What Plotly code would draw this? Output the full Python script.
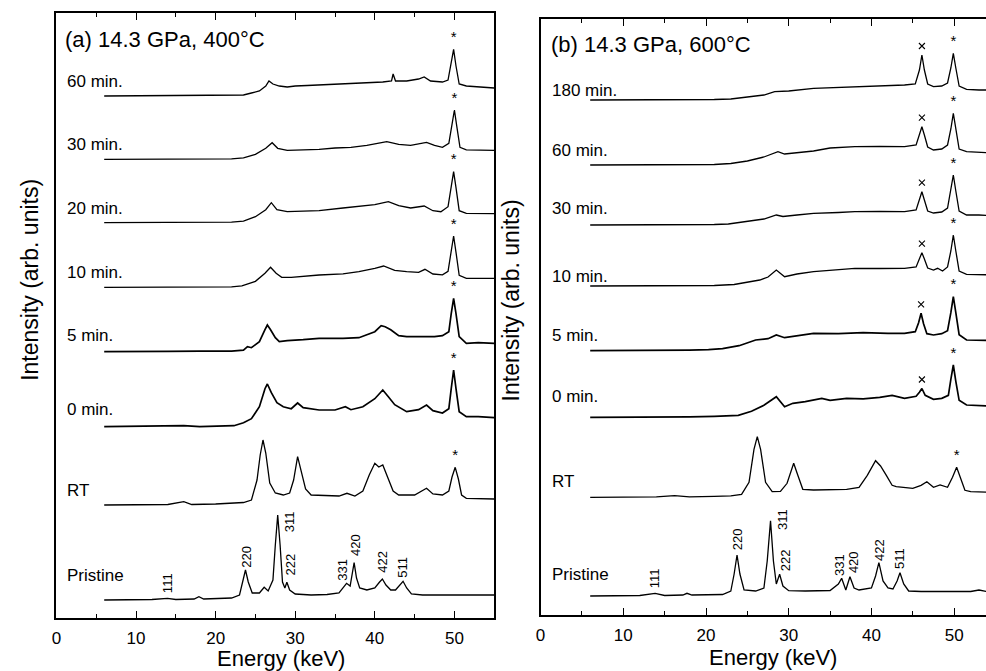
import plotly.graph_objects as go

FONT = "Liberation Sans, Arial, sans-serif"

# ---------------- Panel (a): 14.3 GPa, 400 C ----------------
A_LABELS = ["60 min.", "30 min.", "20 min.", "10 min.", "5 min.", "0 min.", "RT", "Pristine"]

A_60 = [(6, 0), (10, 0.3), (14, 0), (18, 0.3), (22, 0.5), (23.5, 1), (24.5, 3), (25.5, 5), (26.3, 10),
        (26.7, 15), (27.2, 12), (28, 10), (29, 9), (30, 10), (31.5, 10.5), (33, 11), (35, 12), (37, 12.5),
        (39, 13), (41, 14), (42.1, 15), (42.3, 22), (42.6, 15), (44, 15), (45.5, 17), (46.2, 19), (47, 15),
        (48.5, 14), (49.2, 16), (49.6, 32), (49.9, 46.7), (50.2, 30), (50.6, 12), (51.5, 10), (53, 9), (55, 8)]
A_30 = [(6, 0), (10, 0.3), (14, 0), (18, 0.5), (22, 0.5), (23.5, 1.5), (25, 5), (26.3, 11), (27.1, 16.6),
        (27.8, 11), (29, 9), (31, 9.5), (33, 10), (35, 11.3), (37, 12), (39, 14), (41.5, 17.6), (43, 15),
        (44.5, 14), (46.5, 17), (47.5, 14), (48.5, 12), (49.3, 16), (49.7, 35), (50.0, 49.3), (50.3, 33),
        (50.7, 12), (51.5, 9.5), (53, 9), (55, 9)]
A_20 = [(6, 0), (10, 0.3), (14, 0), (18, 0.3), (22, 0.5), (23.5, 1.5), (25, 6), (26.3, 13), (27.0, 20),
        (27.7, 13), (29, 11), (31, 11.5), (33, 12), (36, 14.7), (38, 16), (40, 18), (41.7, 21), (43, 17),
        (44.5, 14.7), (46.2, 16.7), (47.3, 12), (48.3, 11), (49.2, 16), (49.6, 35), (49.9, 51), (50.2, 35),
        (50.6, 12), (51.5, 9.4), (53, 9), (55, 9)]
A_10 = [(6, 0), (10, 0.3), (14, 0), (18, 0.3), (22, 0.5), (23.3, 1.5), (25, 6), (26.2, 14), (26.9, 20),
        (27.6, 14), (28.3, 10), (29.5, 10), (31, 11), (33, 12.3), (36, 13.5), (38, 15.6), (40, 19),
        (41.1, 21.3), (42.5, 17), (44, 15.6), (45.5, 15), (46.3, 18), (47.3, 13.3), (48.5, 12.5), (49.2, 16),
        (49.6, 36), (49.9, 51.3), (50.2, 35), (50.6, 12), (51.5, 9), (53, 9), (55, 9)]
A_5 = [(6, 0), (10, 0.5), (14, 0.3), (18, 0.5), (22, 0.5), (23.5, 1.5), (24, 5), (24.5, 4), (25.5, 10),
       (26.2, 22), (26.5, 26.7), (26.9, 22), (27.5, 14), (28, 10), (29, 11), (31, 12), (33, 13.4), (36, 13.4),
       (38, 14), (40, 20), (40.8, 26), (41.3, 25), (42, 22), (43, 16), (44, 15), (46, 15), (47.5, 15),
       (48.5, 16), (49.3, 20), (49.6, 38), (49.9, 53.4), (50.2, 38), (50.6, 15), (51.5, 8.4), (53, 9), (55, 8.4)]
A_0 = [(6, 0), (10, 0.5), (14, 0.5), (16, 1), (18, 0), (20, 0.5), (22.3, 1), (23.5, 4), (24.5, 8), (25.5, 20),
       (26.2, 38), (26.5, 42.7), (27, 34), (27.7, 24), (28.5, 20), (29.5, 18), (30.3, 23.7), (31, 19),
       (33, 16.7), (35, 16.7), (36.3, 20), (37, 17), (38.5, 20), (40, 28), (41.0, 36.7), (41.7, 30),
       (42.5, 22), (44, 15), (45.5, 17), (46.5, 21.7), (47.3, 16), (48.5, 13.7), (49.3, 18), (49.6, 38),
       (49.9, 56.7), (50.2, 38), (50.6, 15), (51.5, 10), (53, 10), (55, 9)]
A_RT = [(6, 0), (10, 0), (14, 0.5), (16, 3.3), (17, 0.5), (20, 1), (22, 1.5), (23.5, 2.5), (24.5, 5),
        (25.2, 25), (25.6, 50), (25.95, 65), (26.3, 52), (26.8, 22), (27.5, 12), (28.5, 10), (29.3, 12),
        (29.8, 25), (30.3, 48.3), (30.8, 32), (31.3, 16), (32, 10), (34, 9), (35.5, 9), (36.5, 11.7), (37.5, 9),
        (38.5, 14), (39.3, 30), (40.0, 41.7), (40.5, 38), (41.0, 40), (41.5, 30), (42.3, 14), (43, 10), (45, 10),
        (46.5, 16.7), (47.3, 11), (48.5, 10), (49.3, 14), (49.7, 28), (50.1, 37.7), (50.5, 26), (50.9, 10),
        (51.5, 6.7), (53, 6.7), (55, 6)]
A_PRISTINE = [(6, 0), (10, 0), (12, 0.5), (13.95, 1.7), (15, 0.5), (17.3, 1), (17.9, 3.3), (18.5, 1), (20, 1.5),
              (22, 2), (23, 5), (23.4, 18), (23.75, 30), (24.1, 18), (24.6, 7), (25.5, 7), (26.1, 12.7), (26.6, 9),
              (27.2, 20), (27.5, 55), (27.8, 85), (28.1, 55), (28.4, 18), (28.7, 12), (28.95, 17.7), (29.3, 10),
              (30, 6), (32, 5), (34, 5.5), (35.5, 7), (36.0, 12), (36.45, 16.7), (36.9, 14), (37.1, 22),
              (37.4, 37.3), (37.7, 22), (38.1, 12), (39, 10), (40, 12), (40.6, 18), (40.95, 21), (41.4, 15),
              (42, 10), (42.6, 10), (43.2, 16), (43.55, 18.7), (44, 12), (44.6, 6), (46, 5), (48, 5), (50, 5),
              (52, 5), (55, 5)]
A_SPECTRA = [A_60, A_30, A_20, A_10, A_5, A_0, A_RT, A_PRISTINE]
A_OFFSETS = [521.7, 458.4, 395.0, 330.4, 266.0, 191.0, 112.7, 17.7]
A_LABEL_Y = [535.7, 472.7, 409.4, 345.0, 282.0, 208.4, 127.7, 42.7]
A_NOISY = [False, False, False, False, True, True, False, False]
A_STAR_E = [49.9, 50.0, 49.9, 49.9, 49.9, 49.9, 50.1]   # '*' marks, one per spectrum (not pristine)

A_HKL = ["111", "220", "311", "222", "331", "420", "422", "511"]
A_HKL_E = [13.87, 23.95, 29.29, 29.29, 35.83, 37.5, 41.04, 43.54]
A_HKL_Y = [34.4, 61, 96, 52.7, 47.7, 72.7, 56, 51]

# ---------------- Panel (b): 14.3 GPa, 600 C ----------------
B_LABELS = ["180 min.", "60 min.", "30 min.", "10 min.", "5 min.", "0 min.", "RT", "Pristine"]

B_180 = [(6, 0), (10, 0), (14, 0), (18, 0.3), (21, 0.5), (23, 1), (25, 3), (27, 5), (28.3, 8.3), (30, 9),
         (33, 11.7), (36, 12.5), (40, 14), (42, 14.5), (44, 15), (45.3, 16), (45.8, 30), (46.1, 45), (46.4, 30),
         (46.8, 16), (47.5, 13.3), (48.5, 14), (49.2, 17), (49.6, 32), (49.9, 46.7), (50.2, 32), (50.6, 14),
         (51.5, 10.7), (53, 10), (55, 10)]
B_60 = [(6, 0), (10, 0), (14, 0.3), (18, 0.3), (21, 0.5), (23, 1.5), (25, 4), (27, 8), (28.7, 13.3), (29.5, 11),
        (31, 12), (33, 14), (35, 17), (38, 18.3), (41, 18.5), (44, 18.3), (45.4, 20), (45.8, 30), (46.1, 38.3),
        (46.4, 30), (46.8, 18), (47.5, 15), (48.5, 16), (49.2, 20), (49.6, 36), (49.9, 51.7), (50.2, 36),
        (50.6, 16), (51.5, 13.3), (53, 12.5), (55, 12)]
B_30 = [(6, 0), (10, 0), (14, 0.3), (18, 0.3), (21, 0.5), (22.7, 1), (25, 4), (27, 6), (28.5, 10), (29.3, 8.5),
        (31, 10), (33, 11.7), (36, 12.5), (38, 13.3), (41, 13.5), (44, 13.3), (45.4, 15), (45.8, 25), (46.1, 33.3),
        (46.4, 25), (46.8, 14), (47.5, 12), (48.5, 13), (49.2, 17), (49.6, 34), (49.9, 50), (50.2, 34),
        (50.6, 14), (51.5, 10), (53, 10), (55, 9)]
B_10 = [(6, 0), (10, 0), (14, 0.3), (18, 0.3), (21, 0.5), (23.4, 1.5), (25, 4), (26.5, 6), (27.5, 9), (28.5, 16),
        (29.5, 9.3), (31, 12), (33, 14.3), (36, 16), (38, 17.7), (41, 17.5), (44, 17.7), (45.4, 19), (45.8, 27),
        (46.1, 33.3), (46.4, 27), (46.8, 18), (47.5, 16), (48, 17.7), (48.6, 15), (49.2, 19), (49.6, 35),
        (49.9, 51), (50.2, 35), (50.6, 15), (51.5, 11.7), (53, 11.5), (55, 11)]
B_5 = [(6, 0), (10, 0), (14, 0.3), (18, 0.5), (20.3, 1), (22, 2), (24, 5), (26, 10.7), (27.5, 12), (28.5, 15.7),
       (29.5, 13), (31, 15), (33, 17.4), (36, 17), (39, 18), (42, 17.4), (44, 17.4), (45.3, 19), (45.7, 28),
       (46.0, 37.4), (46.3, 27), (46.7, 17), (47.5, 15.7), (48.5, 17), (49.2, 20), (49.6, 38), (49.9, 54),
       (50.2, 38), (50.6, 16), (51.5, 10.7), (53, 10.5), (55, 10)]
B_0 = [(6, 0), (10, 0), (14, 0.5), (18, 0.5), (21, 1), (23.9, 2), (25.5, 6), (27, 12), (28.5, 20.6), (29.5, 10.6),
       (30.5, 14), (32, 15.6), (34, 19), (35, 17), (37, 19), (39, 18.5), (41, 20), (42.5, 22), (44, 19),
       (45.4, 21), (45.8, 25), (46.1, 28.8), (46.5, 22), (47.5, 18), (48.5, 19), (49.3, 22), (49.6, 38),
       (49.9, 52.3), (50.2, 36), (50.6, 17), (51.5, 12.3), (53, 12), (55, 11)]
B_RT = [(6, 0), (10, 0), (14, 0.5), (16.2, 1.6), (18, 0.5), (21, 1), (23, 1.5), (24.3, 3), (25.2, 15), (25.8, 48),
        (26.2, 60.6), (26.6, 48), (27.2, 15), (28, 5.6), (29, 6), (29.8, 14), (30.6, 34), (31.1, 22), (31.7, 8),
        (33, 7.3), (35, 7.3), (37, 8), (38.5, 10), (39.5, 22), (40.5, 36.6), (41.1, 31.3), (41.8, 22), (42.5, 12),
        (43, 10.6), (45, 9), (46.0, 12), (46.7, 15.6), (47.5, 10), (48.3, 12.3), (49.2, 10), (49.8, 20),
        (50.3, 30), (50.8, 18), (51.3, 7), (52, 5.6), (53, 5.6), (55, 5)]
B_PRISTINE = [(6, 0), (10, 0), (12, 0.5), (13.85, 2.7), (15, 0.5), (17.2, 1), (17.7, 2.7), (18.3, 1), (20, 1),
              (22, 1.5), (23, 5), (23.4, 22), (23.75, 41), (24.1, 22), (24.6, 6), (26, 5), (27.0, 8), (27.4, 35),
              (27.8, 75.3), (28.15, 35), (28.5, 12), (28.9, 21.7), (29.3, 10), (30, 5.3), (32, 5), (35, 5.5),
              (36.0, 12), (36.4, 17.7), (36.9, 6), (37.4, 19.3), (37.9, 8), (38.5, 6), (40, 8), (40.5, 20),
              (40.9, 33.3), (41.4, 15), (42, 8), (42.6, 7), (43.1, 15), (43.45, 23.3), (43.9, 12), (44.5, 5),
              (46, 4.5), (50, 4.3), (52, 4.5), (53, 6), (54, 4.3), (55, 4.3)]
B_SPECTRA = [B_180, B_60, B_30, B_10, B_5, B_0, B_RT, B_PRISTINE]
B_OFFSETS = [515.0, 450.0, 390.0, 329.0, 264.3, 197.7, 117.7, 19.0]
B_LABEL_Y = [525.0, 465.0, 406.7, 338.3, 280.0, 218.3, 133.3, 41.0]
B_NOISY = [False, False, False, False, True, True, False, False]
B_STAR_E = [49.9, 49.9, 49.9, 49.9, 49.9, 49.9, 50.3]
B_CROSS_E = [46.1, 46.1, 46.1, 46.1, 46.0, 46.1]

B_HKL = ["111", "220", "311", "222", "331", "420", "422", "511"]
B_HKL_E = [13.71, 23.74, 29.19, 29.59, 36.08, 37.82, 40.9, 43.42]
B_HKL_Y = [36.7, 75.7, 95, 55, 50, 53.3, 65, 56.7]

W, H = 986, 671
fig = go.Figure()


def peak_top(spec, e0):
    return max(v for e, v in spec if abs(e - e0) <= 0.45)


def add_panel(spectra, offsets, noisy, xa, ya, star_e, cross_e=None):
    for spec, off, nz in zip(spectra, offsets, noisy):
        fig.add_trace(go.Scatter(x=[e for e, _ in spec], y=[v + off for _, v in spec], mode="lines",
                                 line=dict(color="black", width=1.7 if nz else 1.3), xaxis=xa, yaxis=ya,
                                 showlegend=False, hoverinfo="skip"))
    sy = [offsets[i] + peak_top(spectra[i], e) + 11 for i, e in enumerate(star_e)]
    fig.add_trace(go.Scatter(x=star_e, y=sy, mode="text", text=["*"] * len(star_e),
                             textfont=dict(family=FONT, size=15, color="black"),
                             xaxis=xa, yaxis=ya, showlegend=False, hoverinfo="skip"))
    if cross_e:
        cy = [offsets[i] + peak_top(spectra[i], e) + 9 for i, e in enumerate(cross_e)]
        fig.add_trace(go.Scatter(x=cross_e, y=cy, mode="markers",
                                 marker=dict(symbol="x-thin-open", size=6, color="black",
                                             line=dict(color="black", width=1.1)),
                                 xaxis=xa, yaxis=ya, showlegend=False, hoverinfo="skip"))


add_panel(A_SPECTRA, A_OFFSETS, A_NOISY, "x", "y", A_STAR_E)
add_panel(B_SPECTRA, B_OFFSETS, B_NOISY, "x2", "y2", B_STAR_E, B_CROSS_E)

ann = []
for lab, yv in zip(A_LABELS, A_LABEL_Y):
    ann.append(dict(x=1.05, y=yv, xref="x", yref="y", text=lab, showarrow=False, xanchor="left",
                    yanchor="middle", font=dict(family=FONT, size=17, color="black")))
for lab, yv in zip(B_LABELS, B_LABEL_Y):
    ann.append(dict(x=1.13, y=yv, xref="x2", yref="y2", text=lab, showarrow=False, xanchor="left",
                    yanchor="middle", font=dict(family=FONT, size=17, color="black")))
for lab, xv, yv in zip(A_HKL, A_HKL_E, A_HKL_Y):
    ann.append(dict(x=xv, y=yv, xref="x", yref="y", text=lab, showarrow=False, textangle=-90,
                    xanchor="center", yanchor="middle", font=dict(family=FONT, size=13, color="black")))
for lab, xv, yv in zip(B_HKL, B_HKL_E, B_HKL_Y):
    ann.append(dict(x=xv, y=yv, xref="x2", yref="y2", text=lab, showarrow=False, textangle=-90,
                    xanchor="center", yanchor="middle", font=dict(family=FONT, size=13, color="black")))

# panel titles
ann.append(dict(x=58 / W, y=1 - 40 / H, xref="paper", yref="paper", text="(a) 14.3 GPa, 400°C",
                showarrow=False, xanchor="left", yanchor="middle", font=dict(family=FONT, size=22, color="black")))
ann.append(dict(x=547 / W, y=1 - 44.5 / H, xref="paper", yref="paper", text="(b) 14.3 GPa, 600°C",
                showarrow=False, xanchor="left", yanchor="middle", font=dict(family=FONT, size=22, color="black")))
# axis titles
for xc, yc in [(25, 280), (509, 300)]:
    ann.append(dict(x=xc / W, y=1 - yc / H, xref="paper", yref="paper", text="Intensity (arb. units)",
                    showarrow=False, textangle=-90, xanchor="center", yanchor="middle",
                    font=dict(family=FONT, size=23, color="black")))
for xc, yc in [(277, 658), (772, 657)]:
    ann.append(dict(x=xc / W, y=1 - yc / H, xref="paper", yref="paper", text="Energy (keV)",
                    showarrow=False, xanchor="center", yanchor="middle",
                    font=dict(family=FONT, size=22, color="black")))

xcommon = dict(showgrid=False, zeroline=False, showline=True, linecolor="black", linewidth=1.5,
               mirror="ticks", ticks="inside", ticklen=7, tickwidth=1.3, tickcolor="black", dtick=10, tick0=0,
               minor=dict(dtick=5, ticks="inside", ticklen=4, tickwidth=1.3, tickcolor="black"),
               tickfont=dict(family=FONT, size=17, color="black"), ticklabelstandoff=4)
fig.update_layout(
    width=W, height=H, margin=dict(l=0, r=0, t=0, b=0),
    paper_bgcolor="white", plot_bgcolor="white",
    xaxis=dict(domain=[51.7 / W, 491.7 / W], range=[0, 55], anchor="y", **xcommon),
    yaxis=dict(domain=[1 - 617.7 / H, 1 - 13 / H], range=[0, 604.7], anchor="x", showticklabels=False,
               ticks="", showgrid=False, zeroline=False, showline=True, linecolor="black", linewidth=1.5,
               mirror=True),
    xaxis2=dict(domain=[538.3 / W, 1.0], range=[0, 447.7 / 8.314], anchor="y2", **xcommon),
    yaxis2=dict(domain=[1 - 615 / H, 1 - 19.3 / H], range=[0, 595.7], anchor="x2", showticklabels=False,
                ticks="", showgrid=False, zeroline=False, showline=True, linecolor="black", linewidth=1.5,
                mirror=False),
    annotations=ann,
)

fig.write_html("out.html", config={"displayModeBar": False},
               post_script="document.body.style.margin='0';document.body.style.overflow='hidden';")
